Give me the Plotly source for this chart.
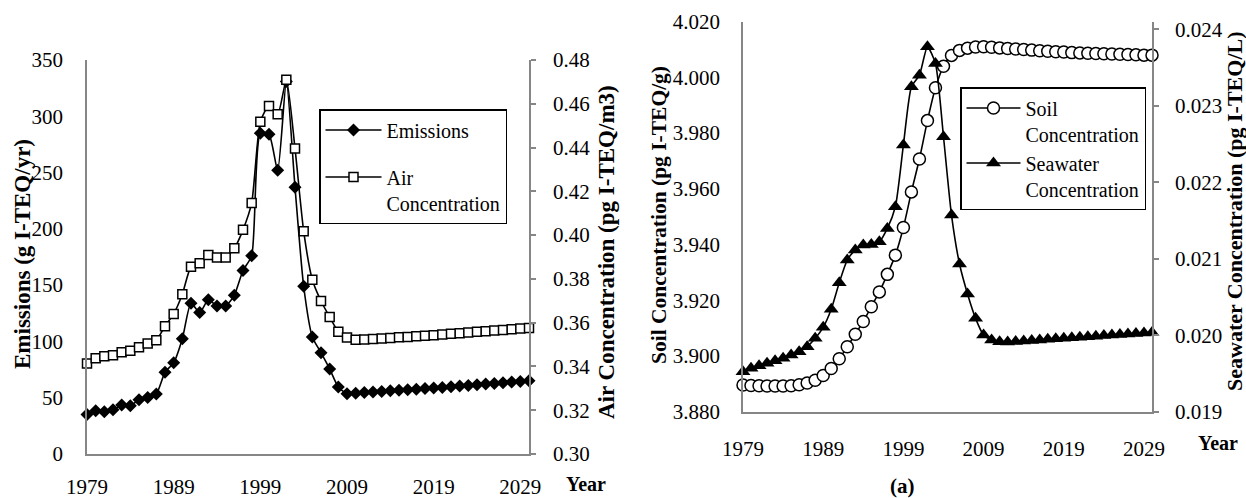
import plotly.graph_objects as go

years = [1979, 1980, 1981, 1982, 1983, 1984, 1985, 1986, 1987, 1988,
         1989, 1990, 1991, 1992, 1993, 1994, 1995, 1996, 1997, 1998,
         1999, 2000, 2001, 2002, 2003, 2004, 2005, 2006, 2007, 2008,
         2009, 2010, 2011, 2012, 2013, 2014, 2015, 2016, 2017, 2018,
         2019, 2020, 2021, 2022, 2023, 2024, 2025, 2026, 2027, 2028,
         2029, 2030]

emissions = [35.0, 38.4, 37.5, 39.3, 43.5, 42.9, 48.2, 50.3, 53.3, 72.6,
             81.0, 102.4, 134.0, 125.6, 137.0, 131.5, 131.5, 141.0, 163.0, 176.0,
             285.0, 284.0, 252.0, 331.0, 237.0, 149.0, 104.0, 90.0, 75.6, 59.5,
             53.5, 54.0, 54.6, 55.1, 55.6, 56.1, 56.6, 57.1, 57.6, 58.1,
             58.6, 59.1, 59.7, 60.3, 60.9, 61.5, 62.1, 62.7, 63.3, 63.9,
             64.5, 65.0]

air_conc = [0.3413, 0.3438, 0.3447, 0.3451, 0.3465, 0.3472, 0.3488, 0.3505, 0.3520, 0.3584,
            0.3640, 0.3730, 0.3855, 0.3872, 0.3909, 0.3898, 0.3898, 0.3940, 0.4024, 0.4147,
            0.4518, 0.4590, 0.4552, 0.4710, 0.4396, 0.4018, 0.3796, 0.3699, 0.3626, 0.3559,
            0.3532, 0.3522, 0.3523, 0.3525, 0.3528, 0.3530, 0.3533, 0.3535, 0.3538, 0.3540,
            0.3543, 0.3546, 0.3549, 0.3552, 0.3555, 0.3558, 0.3561, 0.3564, 0.3567, 0.3570,
            0.3573, 0.3576]

soil_conc = [3.8896, 3.8894, 3.8893, 3.8892, 3.8892, 3.8892, 3.8893, 3.8897, 3.8903, 3.8913,
             3.8930, 3.8955, 3.8990, 3.9033, 3.9078, 3.9124, 3.9177, 3.9230, 3.9293, 3.9362,
             3.9461, 3.9589, 3.9707, 3.9845, 3.9963, 4.0040, 4.0079, 4.0097, 4.0105, 4.0109,
             4.0110, 4.0108, 4.0106, 4.0104, 4.0102, 4.0100, 4.0098, 4.0096, 4.0094, 4.0092,
             4.0091, 4.0089, 4.0088, 4.0087, 4.0086, 4.0085, 4.0084, 4.0083, 4.0082, 4.0081,
             4.0080, 4.0080]

seawater_conc = [0.019523, 0.019567, 0.019601, 0.019633, 0.019667, 0.019698, 0.019741, 0.019784, 0.019850, 0.019960,
                 0.020103, 0.020339, 0.020686, 0.020983, 0.021114, 0.021180, 0.021185, 0.021222, 0.021397, 0.021680,
                 0.022486, 0.023248, 0.023401, 0.023771, 0.023554, 0.022595, 0.021571, 0.020931, 0.020539, 0.020221,
                 0.020003, 0.019937, 0.019915, 0.019913, 0.019918, 0.019925, 0.019932, 0.019939, 0.019946, 0.019953,
                 0.019960, 0.019967, 0.019974, 0.019981, 0.019988, 0.019995, 0.020002, 0.020009, 0.020016, 0.020023,
                 0.020030, 0.020037]

year_ticks = [1979, 1989, 1999, 2009, 2019, 2029]

W, H = 1246, 498
FONT = "Liberation Serif"
AX = "#868686"
TICK_SIZE = 21
LEG_SIZE = 20


def px_x(x):
    return x / W


def px_y(y):
    return (H - y) / H


fig = go.Figure()

line_style = dict(color="black", width=1.6, shape="spline", smoothing=0.6)

fig.add_trace(go.Scatter(
    x=years, y=emissions, name="Emissions", mode="lines+markers",
    line=line_style, marker=dict(symbol="diamond", size=10, color="black"),
    xaxis="x", yaxis="y", legend="legend", legendgroup="a", cliponaxis=False))
fig.add_trace(go.Scatter(
    x=years, y=air_conc, name="Air<br>Concentration", mode="lines+markers",
    line=line_style,
    marker=dict(symbol="square", size=9, color="white", line=dict(color="black", width=1.5)),
    xaxis="x", yaxis="y2", legend="legend", legendgroup="b", cliponaxis=False))
fig.add_trace(go.Scatter(
    x=years, y=soil_conc, name="Soil<br>Concentration", mode="lines+markers",
    line=line_style,
    marker=dict(symbol="circle", size=12, color="white", line=dict(color="black", width=1.5)),
    xaxis="x2", yaxis="y3", legend="legend2", cliponaxis=False))
fig.add_trace(go.Scatter(
    x=years, y=seawater_conc, name="Seawater<br>Concentration", mode="lines+markers",
    line=line_style, marker=dict(symbol="triangle-up", size=13, color="black"),
    xaxis="x2", yaxis="y4", legend="legend2", cliponaxis=False))

tickfont = dict(family=FONT, size=TICK_SIZE, color="black")

xcommon = dict(range=[1979, 2030], tickvals=year_ticks, showline=True, linecolor=AX,
               linewidth=1.5, ticks="", showgrid=False, zeroline=False, tickfont=tickfont,
               automargin=False)

fig.update_layout(
    width=W, height=H,
    margin=dict(l=0, r=0, t=0, b=0),
    paper_bgcolor="white", plot_bgcolor="white",
    font=dict(family=FONT, size=TICK_SIZE, color="black"),
    xaxis=dict(domain=[px_x(87), px_x(529)], anchor="y", ticklabelstandoff=13, **xcommon),
    yaxis=dict(domain=[px_y(454), px_y(60)], anchor="x", range=[0, 350], dtick=50,
               showline=True, linecolor=AX, linewidth=1.5, ticks="", showgrid=False,
               zeroline=False, tickfont=tickfont, ticklabelstandoff=18, automargin=False),
    yaxis2=dict(overlaying="y", side="right", anchor="x", range=[0.30, 0.48], dtick=0.02,
                tick0=0.30, tickformat=".2f", showline=True, linecolor=AX, linewidth=1.5,
                ticks="outside", ticklen=5, tickcolor=AX, tickwidth=1.5, showgrid=False,
                zeroline=False, tickfont=tickfont, ticklabelstandoff=13, automargin=False),
    xaxis2=dict(domain=[px_x(743), px_x(1152)], anchor="y3", ticklabelstandoff=17, **xcommon),
    yaxis3=dict(domain=[px_y(411.7), px_y(21.7)], anchor="x2", range=[3.88, 4.02], dtick=0.02,
                tick0=3.88, tickformat=".3f", showline=True, linecolor=AX, linewidth=1.5,
                ticks="", showgrid=False, zeroline=False, tickfont=tickfont,
                ticklabelstandoff=17, automargin=False),
    yaxis4=dict(overlaying="y3", side="right", anchor="x2", range=[0.019, 0.0241],
                dtick=0.001, tick0=0.019, tickformat=".3f", showline=True, linecolor=AX,
                linewidth=1.5, ticks="outside", ticklen=5, tickcolor=AX, tickwidth=1.5,
                showgrid=False, zeroline=False, tickfont=tickfont, ticklabelstandoff=12,
                automargin=False),
    legend=dict(x=px_x(319), y=px_y(109), xanchor="left", yanchor="top",
                bordercolor="black", borderwidth=1.5, bgcolor="white",
                font=dict(family=FONT, size=LEG_SIZE), valign="top",
                tracegroupgap=18, traceorder="grouped", itemwidth=56),
    legend2=dict(x=px_x(960), y=px_y(87), xanchor="left", yanchor="top",
                 bordercolor="black", borderwidth=1.5, bgcolor="white",
                 font=dict(family=FONT, size=LEG_SIZE), valign="top",
                 tracegroupgap=0, itemwidth=54),
)

annots = [
    dict(text="<b>Emissions (g I-TEQ/yr)</b>", x=px_x(22), y=px_y(254), textangle=-90, size=23),
    dict(text="<b>Air Concentration (pg I-TEQ/m3)</b>", x=px_x(606), y=px_y(252), textangle=-90, size=23),
    dict(text="<b>Year</b>", x=px_x(586), y=px_y(484), textangle=0, size=20),
    dict(text="<b>Soil Concentration (pg I-TEQ/g)</b>", x=px_x(659), y=px_y(215), textangle=-90, size=21.5),
    dict(text="<b>Seawater Concentration (pg I-TEQ/L)</b>", x=px_x(1234), y=px_y(211), textangle=-90, size=22),
    dict(text="<b>Year</b>", x=px_x(1218), y=px_y(443), textangle=0, size=20),
    dict(text="<b>(a)</b>", x=px_x(902), y=px_y(486), textangle=0, size=21),
]
for a in annots:
    size = a.pop("size")
    fig.add_annotation(xref="paper", yref="paper", xanchor="center", yanchor="middle",
                       showarrow=False, font=dict(family=FONT, size=size, color="black"), **a)

fig.write_html("out.html", config={"displayModeBar": False},
               post_script="document.body.style.margin='0';")
